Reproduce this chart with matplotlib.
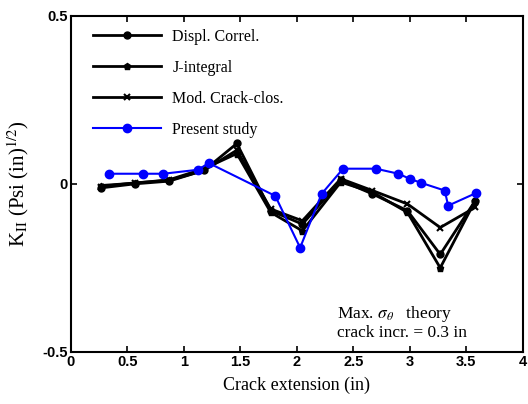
import numpy as np
import matplotlib.pyplot as plt

plt.rcParams['mathtext.fontset'] = 'stix'

# crack extension (in) for the three reference methods
x_ref = [0.27, 0.57, 0.87, 1.18, 1.47, 1.77, 2.05, 2.39, 2.67, 2.98, 3.27, 3.58]
k_displ = [-0.012, 0.0, 0.008, 0.04, 0.12, -0.08, -0.12, 0.01, -0.03, -0.08, -0.21, -0.05]
k_jint = [-0.005, 0.002, 0.012, 0.045, 0.09, -0.085, -0.14, 0.005, -0.025, -0.085, -0.25, -0.05]
k_mcc = [-0.008, 0.003, 0.01, 0.04, 0.10, -0.075, -0.11, 0.015, -0.02, -0.06, -0.13, -0.07]

# present study
x_ps = [0.34, 0.64, 0.82, 1.13, 1.22, 1.81, 2.03, 2.22, 2.41, 2.70, 2.90, 3.00, 3.10, 3.31, 3.34, 3.59]
k_ps = [0.03, 0.03, 0.03, 0.042, 0.062, -0.036, -0.19, -0.03, 0.045, 0.045, 0.03, 0.015, 0.003, -0.02, -0.065, -0.027]

serif = 'Liberation Serif'
sans = 'Liberation Sans'

fig = plt.figure(figsize=(5.28, 4.04), dpi=100)
ax = fig.add_axes([0.134, 0.129, 0.856, 0.832])

ax.plot(x_ref, k_displ, '-', color='black', lw=2, marker='o', ms=5, label='Displ. Correl.')
ax.plot(x_ref, k_jint, '-', color='black', lw=2, marker='p', ms=5, label='J-integral')
ax.plot(x_ref, k_mcc, '-', color='black', lw=2, marker='x', ms=5, mew=1.5, label='Mod. Crack-clos.')
ax.plot(x_ps, k_ps, '-', color='blue', lw=1.5, marker='o', ms=6, label='Present study')

ax.set_xlim(0, 4)
ax.set_ylim(-0.5, 0.5)
ax.set_xticks(np.arange(0, 4.01, 0.5))
ax.set_xticklabels(['0', '0.5', '1', '1.5', '2', '2.5', '3', '3.5', '4'])
ax.set_yticks([-0.5, 0, 0.5])
ax.set_yticklabels(['-0.5', '0', '0.5'])
ax.tick_params(direction='in', top=True, right=True, length=4, width=1.2, pad=2)
for lab in ax.get_xticklabels() + ax.get_yticklabels():
    lab.set_fontfamily(sans)
    lab.set_fontweight('bold')
    lab.set_fontsize(10.5)
for s in ax.spines.values():
    s.set_linewidth(1.5)

ax.set_xlabel('Crack extension (in)', fontfamily=serif, fontsize=13, labelpad=6)
ax.set_ylabel(r'K$_{\mathrm{II}}$ (Psi (in)$^{\mathrm{1/2}}$)', fontfamily=serif, fontsize=15, labelpad=8)

ax.text(0.59, 0.10, r'Max. $\sigma_\theta$   theory', transform=ax.transAxes,
        fontfamily=serif, fontsize=12.5)
ax.text(0.59, 0.045, 'crack incr. = 0.3 in', transform=ax.transAxes,
        fontfamily=serif, fontsize=12.5)

ax.legend(loc='upper left', bbox_to_anchor=(0.02, 1.0), frameon=False, handlelength=4.3,
          handletextpad=0.7, labelspacing=0.95, borderaxespad=0.4,
          prop={'family': serif, 'size': 11.5})

fig.savefig('out.png', dpi=100)
